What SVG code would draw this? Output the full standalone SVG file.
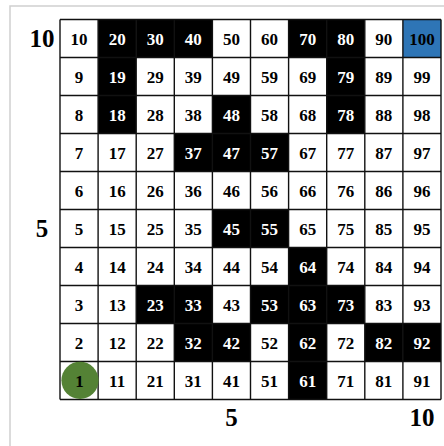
<svg xmlns="http://www.w3.org/2000/svg" width="444" height="446" viewBox="0 0 444 446">
<style>
.bg{fill:#fff}
.frame{fill:none;stroke:#cfcfcf;stroke-width:1.5}
.w{fill:#fff}
.b{fill:#000}
.blue{fill:#2e75b6}
.t{font-family:"Liberation Serif","Times New Roman",serif;font-weight:bold;font-size:17px;text-anchor:middle;fill:#000}
.tw{font-family:"Liberation Serif","Times New Roman",serif;font-weight:bold;font-size:17px;text-anchor:middle;fill:#fff}
.ax{font-family:"Liberation Serif","Times New Roman",serif;font-weight:bold;font-size:25px;text-anchor:middle;fill:#000}
.grid line{stroke:#111;stroke-width:1.4}
</style>
<rect class="bg" x="0" y="0" width="444" height="446"/>
<rect class="frame" x="10" y="6" width="440" height="450"/>
<g id="axis-labels">
<text class="ax" x="42" y="47">10</text>
<text class="ax" x="42" y="237">5</text>
<text class="ax" x="231.45" y="426">5</text>
<text class="ax" x="421.95" y="426">10</text>
</g>
<g id="cells">
<g id="cell-2" transform="translate(60,323.5)"><rect class="w" width="38.1" height="38"/><text class="t" x="19.05" y="25">2</text></g>
<g id="cell-3" transform="translate(60,285.5)"><rect class="w" width="38.1" height="38"/><text class="t" x="19.05" y="25">3</text></g>
<g id="cell-4" transform="translate(60,247.5)"><rect class="w" width="38.1" height="38"/><text class="t" x="19.05" y="25">4</text></g>
<g id="cell-5" transform="translate(60,209.5)"><rect class="w" width="38.1" height="38"/><text class="t" x="19.05" y="25">5</text></g>
<g id="cell-6" transform="translate(60,171.5)"><rect class="w" width="38.1" height="38"/><text class="t" x="19.05" y="25">6</text></g>
<g id="cell-7" transform="translate(60,133.5)"><rect class="w" width="38.1" height="38"/><text class="t" x="19.05" y="25">7</text></g>
<g id="cell-8" transform="translate(60,95.5)"><rect class="w" width="38.1" height="38"/><text class="t" x="19.05" y="25">8</text></g>
<g id="cell-9" transform="translate(60,57.5)"><rect class="w" width="38.1" height="38"/><text class="t" x="19.05" y="25">9</text></g>
<g id="cell-10" transform="translate(60,19.5)"><rect class="w" width="38.1" height="38"/><text class="t" x="19.05" y="25">10</text></g>

<g id="cell-11" transform="translate(98.1,361.5)"><rect class="w" width="38.1" height="38"/><text class="t" x="19.05" y="25">11</text></g>
<g id="cell-12" transform="translate(98.1,323.5)"><rect class="w" width="38.1" height="38"/><text class="t" x="19.05" y="25">12</text></g>
<g id="cell-13" transform="translate(98.1,285.5)"><rect class="w" width="38.1" height="38"/><text class="t" x="19.05" y="25">13</text></g>
<g id="cell-14" transform="translate(98.1,247.5)"><rect class="w" width="38.1" height="38"/><text class="t" x="19.05" y="25">14</text></g>
<g id="cell-15" transform="translate(98.1,209.5)"><rect class="w" width="38.1" height="38"/><text class="t" x="19.05" y="25">15</text></g>
<g id="cell-16" transform="translate(98.1,171.5)"><rect class="w" width="38.1" height="38"/><text class="t" x="19.05" y="25">16</text></g>
<g id="cell-17" transform="translate(98.1,133.5)"><rect class="w" width="38.1" height="38"/><text class="t" x="19.05" y="25">17</text></g>
<g id="cell-18" transform="translate(98.1,95.5)"><rect class="b" width="38.1" height="38"/><text class="tw" x="19.05" y="25">18</text></g>
<g id="cell-19" transform="translate(98.1,57.5)"><rect class="b" width="38.1" height="38"/><text class="tw" x="19.05" y="25">19</text></g>
<g id="cell-20" transform="translate(98.1,19.5)"><rect class="b" width="38.1" height="38"/><text class="tw" x="19.05" y="25">20</text></g>

<g id="cell-21" transform="translate(136.2,361.5)"><rect class="w" width="38.1" height="38"/><text class="t" x="19.05" y="25">21</text></g>
<g id="cell-22" transform="translate(136.2,323.5)"><rect class="w" width="38.1" height="38"/><text class="t" x="19.05" y="25">22</text></g>
<g id="cell-23" transform="translate(136.2,285.5)"><rect class="b" width="38.1" height="38"/><text class="tw" x="19.05" y="25">23</text></g>
<g id="cell-24" transform="translate(136.2,247.5)"><rect class="w" width="38.1" height="38"/><text class="t" x="19.05" y="25">24</text></g>
<g id="cell-25" transform="translate(136.2,209.5)"><rect class="w" width="38.1" height="38"/><text class="t" x="19.05" y="25">25</text></g>
<g id="cell-26" transform="translate(136.2,171.5)"><rect class="w" width="38.1" height="38"/><text class="t" x="19.05" y="25">26</text></g>
<g id="cell-27" transform="translate(136.2,133.5)"><rect class="w" width="38.1" height="38"/><text class="t" x="19.05" y="25">27</text></g>
<g id="cell-28" transform="translate(136.2,95.5)"><rect class="w" width="38.1" height="38"/><text class="t" x="19.05" y="25">28</text></g>
<g id="cell-29" transform="translate(136.2,57.5)"><rect class="w" width="38.1" height="38"/><text class="t" x="19.05" y="25">29</text></g>
<g id="cell-30" transform="translate(136.2,19.5)"><rect class="b" width="38.1" height="38"/><text class="tw" x="19.05" y="25">30</text></g>

<g id="cell-31" transform="translate(174.3,361.5)"><rect class="w" width="38.1" height="38"/><text class="t" x="19.05" y="25">31</text></g>
<g id="cell-32" transform="translate(174.3,323.5)"><rect class="b" width="38.1" height="38"/><text class="tw" x="19.05" y="25">32</text></g>
<g id="cell-33" transform="translate(174.3,285.5)"><rect class="b" width="38.1" height="38"/><text class="tw" x="19.05" y="25">33</text></g>
<g id="cell-34" transform="translate(174.3,247.5)"><rect class="w" width="38.1" height="38"/><text class="t" x="19.05" y="25">34</text></g>
<g id="cell-35" transform="translate(174.3,209.5)"><rect class="w" width="38.1" height="38"/><text class="t" x="19.05" y="25">35</text></g>
<g id="cell-36" transform="translate(174.3,171.5)"><rect class="w" width="38.1" height="38"/><text class="t" x="19.05" y="25">36</text></g>
<g id="cell-37" transform="translate(174.3,133.5)"><rect class="b" width="38.1" height="38"/><text class="tw" x="19.05" y="25">37</text></g>
<g id="cell-38" transform="translate(174.3,95.5)"><rect class="w" width="38.1" height="38"/><text class="t" x="19.05" y="25">38</text></g>
<g id="cell-39" transform="translate(174.3,57.5)"><rect class="w" width="38.1" height="38"/><text class="t" x="19.05" y="25">39</text></g>
<g id="cell-40" transform="translate(174.3,19.5)"><rect class="b" width="38.1" height="38"/><text class="tw" x="19.05" y="25">40</text></g>

<g id="cell-41" transform="translate(212.4,361.5)"><rect class="w" width="38.1" height="38"/><text class="t" x="19.05" y="25">41</text></g>
<g id="cell-42" transform="translate(212.4,323.5)"><rect class="b" width="38.1" height="38"/><text class="tw" x="19.05" y="25">42</text></g>
<g id="cell-43" transform="translate(212.4,285.5)"><rect class="w" width="38.1" height="38"/><text class="t" x="19.05" y="25">43</text></g>
<g id="cell-44" transform="translate(212.4,247.5)"><rect class="w" width="38.1" height="38"/><text class="t" x="19.05" y="25">44</text></g>
<g id="cell-45" transform="translate(212.4,209.5)"><rect class="b" width="38.1" height="38"/><text class="tw" x="19.05" y="25">45</text></g>
<g id="cell-46" transform="translate(212.4,171.5)"><rect class="w" width="38.1" height="38"/><text class="t" x="19.05" y="25">46</text></g>
<g id="cell-47" transform="translate(212.4,133.5)"><rect class="b" width="38.1" height="38"/><text class="tw" x="19.05" y="25">47</text></g>
<g id="cell-48" transform="translate(212.4,95.5)"><rect class="b" width="38.1" height="38"/><text class="tw" x="19.05" y="25">48</text></g>
<g id="cell-49" transform="translate(212.4,57.5)"><rect class="w" width="38.1" height="38"/><text class="t" x="19.05" y="25">49</text></g>
<g id="cell-50" transform="translate(212.4,19.5)"><rect class="w" width="38.1" height="38"/><text class="t" x="19.05" y="25">50</text></g>

<g id="cell-51" transform="translate(250.5,361.5)"><rect class="w" width="38.1" height="38"/><text class="t" x="19.05" y="25">51</text></g>
<g id="cell-52" transform="translate(250.5,323.5)"><rect class="w" width="38.1" height="38"/><text class="t" x="19.05" y="25">52</text></g>
<g id="cell-53" transform="translate(250.5,285.5)"><rect class="b" width="38.1" height="38"/><text class="tw" x="19.05" y="25">53</text></g>
<g id="cell-54" transform="translate(250.5,247.5)"><rect class="w" width="38.1" height="38"/><text class="t" x="19.05" y="25">54</text></g>
<g id="cell-55" transform="translate(250.5,209.5)"><rect class="b" width="38.1" height="38"/><text class="tw" x="19.05" y="25">55</text></g>
<g id="cell-56" transform="translate(250.5,171.5)"><rect class="w" width="38.1" height="38"/><text class="t" x="19.05" y="25">56</text></g>
<g id="cell-57" transform="translate(250.5,133.5)"><rect class="b" width="38.1" height="38"/><text class="tw" x="19.05" y="25">57</text></g>
<g id="cell-58" transform="translate(250.5,95.5)"><rect class="w" width="38.1" height="38"/><text class="t" x="19.05" y="25">58</text></g>
<g id="cell-59" transform="translate(250.5,57.5)"><rect class="w" width="38.1" height="38"/><text class="t" x="19.05" y="25">59</text></g>
<g id="cell-60" transform="translate(250.5,19.5)"><rect class="w" width="38.1" height="38"/><text class="t" x="19.05" y="25">60</text></g>

<g id="cell-61" transform="translate(288.6,361.5)"><rect class="b" width="38.1" height="38"/><text class="tw" x="19.05" y="25">61</text></g>
<g id="cell-62" transform="translate(288.6,323.5)"><rect class="b" width="38.1" height="38"/><text class="tw" x="19.05" y="25">62</text></g>
<g id="cell-63" transform="translate(288.6,285.5)"><rect class="b" width="38.1" height="38"/><text class="tw" x="19.05" y="25">63</text></g>
<g id="cell-64" transform="translate(288.6,247.5)"><rect class="b" width="38.1" height="38"/><text class="tw" x="19.05" y="25">64</text></g>
<g id="cell-65" transform="translate(288.6,209.5)"><rect class="w" width="38.1" height="38"/><text class="t" x="19.05" y="25">65</text></g>
<g id="cell-66" transform="translate(288.6,171.5)"><rect class="w" width="38.1" height="38"/><text class="t" x="19.05" y="25">66</text></g>
<g id="cell-67" transform="translate(288.6,133.5)"><rect class="w" width="38.1" height="38"/><text class="t" x="19.05" y="25">67</text></g>
<g id="cell-68" transform="translate(288.6,95.5)"><rect class="w" width="38.1" height="38"/><text class="t" x="19.05" y="25">68</text></g>
<g id="cell-69" transform="translate(288.6,57.5)"><rect class="w" width="38.1" height="38"/><text class="t" x="19.05" y="25">69</text></g>
<g id="cell-70" transform="translate(288.6,19.5)"><rect class="b" width="38.1" height="38"/><text class="tw" x="19.05" y="25">70</text></g>

<g id="cell-71" transform="translate(326.7,361.5)"><rect class="w" width="38.1" height="38"/><text class="t" x="19.05" y="25">71</text></g>
<g id="cell-72" transform="translate(326.7,323.5)"><rect class="w" width="38.1" height="38"/><text class="t" x="19.05" y="25">72</text></g>
<g id="cell-73" transform="translate(326.7,285.5)"><rect class="b" width="38.1" height="38"/><text class="tw" x="19.05" y="25">73</text></g>
<g id="cell-74" transform="translate(326.7,247.5)"><rect class="w" width="38.1" height="38"/><text class="t" x="19.05" y="25">74</text></g>
<g id="cell-75" transform="translate(326.7,209.5)"><rect class="w" width="38.1" height="38"/><text class="t" x="19.05" y="25">75</text></g>
<g id="cell-76" transform="translate(326.7,171.5)"><rect class="w" width="38.1" height="38"/><text class="t" x="19.05" y="25">76</text></g>
<g id="cell-77" transform="translate(326.7,133.5)"><rect class="w" width="38.1" height="38"/><text class="t" x="19.05" y="25">77</text></g>
<g id="cell-78" transform="translate(326.7,95.5)"><rect class="b" width="38.1" height="38"/><text class="tw" x="19.05" y="25">78</text></g>
<g id="cell-79" transform="translate(326.7,57.5)"><rect class="b" width="38.1" height="38"/><text class="tw" x="19.05" y="25">79</text></g>
<g id="cell-80" transform="translate(326.7,19.5)"><rect class="b" width="38.1" height="38"/><text class="tw" x="19.05" y="25">80</text></g>

<g id="cell-81" transform="translate(364.8,361.5)"><rect class="w" width="38.1" height="38"/><text class="t" x="19.05" y="25">81</text></g>
<g id="cell-82" transform="translate(364.8,323.5)"><rect class="b" width="38.1" height="38"/><text class="tw" x="19.05" y="25">82</text></g>
<g id="cell-83" transform="translate(364.8,285.5)"><rect class="w" width="38.1" height="38"/><text class="t" x="19.05" y="25">83</text></g>
<g id="cell-84" transform="translate(364.8,247.5)"><rect class="w" width="38.1" height="38"/><text class="t" x="19.05" y="25">84</text></g>
<g id="cell-85" transform="translate(364.8,209.5)"><rect class="w" width="38.1" height="38"/><text class="t" x="19.05" y="25">85</text></g>
<g id="cell-86" transform="translate(364.8,171.5)"><rect class="w" width="38.1" height="38"/><text class="t" x="19.05" y="25">86</text></g>
<g id="cell-87" transform="translate(364.8,133.5)"><rect class="w" width="38.1" height="38"/><text class="t" x="19.05" y="25">87</text></g>
<g id="cell-88" transform="translate(364.8,95.5)"><rect class="w" width="38.1" height="38"/><text class="t" x="19.05" y="25">88</text></g>
<g id="cell-89" transform="translate(364.8,57.5)"><rect class="w" width="38.1" height="38"/><text class="t" x="19.05" y="25">89</text></g>
<g id="cell-90" transform="translate(364.8,19.5)"><rect class="w" width="38.1" height="38"/><text class="t" x="19.05" y="25">90</text></g>

<g id="cell-91" transform="translate(402.9,361.5)"><rect class="w" width="38.1" height="38"/><text class="t" x="19.05" y="25">91</text></g>
<g id="cell-92" transform="translate(402.9,323.5)"><rect class="b" width="38.1" height="38"/><text class="tw" x="19.05" y="25">92</text></g>
<g id="cell-93" transform="translate(402.9,285.5)"><rect class="w" width="38.1" height="38"/><text class="t" x="19.05" y="25">93</text></g>
<g id="cell-94" transform="translate(402.9,247.5)"><rect class="w" width="38.1" height="38"/><text class="t" x="19.05" y="25">94</text></g>
<g id="cell-95" transform="translate(402.9,209.5)"><rect class="w" width="38.1" height="38"/><text class="t" x="19.05" y="25">95</text></g>
<g id="cell-96" transform="translate(402.9,171.5)"><rect class="w" width="38.1" height="38"/><text class="t" x="19.05" y="25">96</text></g>
<g id="cell-97" transform="translate(402.9,133.5)"><rect class="w" width="38.1" height="38"/><text class="t" x="19.05" y="25">97</text></g>
<g id="cell-98" transform="translate(402.9,95.5)"><rect class="w" width="38.1" height="38"/><text class="t" x="19.05" y="25">98</text></g>
<g id="cell-99" transform="translate(402.9,57.5)"><rect class="w" width="38.1" height="38"/><text class="t" x="19.05" y="25">99</text></g>
<g id="cell-100" transform="translate(402.9,19.5)"><rect class="blue" width="38.1" height="38"/><text class="t" x="19.05" y="25">100</text></g>
</g>
<g id="grid" class="grid">
<line x1="60" y1="19.5" x2="60" y2="399.5"/>
<line x1="98.1" y1="19.5" x2="98.1" y2="399.5"/>
<line x1="136.2" y1="19.5" x2="136.2" y2="399.5"/>
<line x1="174.3" y1="19.5" x2="174.3" y2="399.5"/>
<line x1="212.4" y1="19.5" x2="212.4" y2="399.5"/>
<line x1="250.5" y1="19.5" x2="250.5" y2="399.5"/>
<line x1="288.6" y1="19.5" x2="288.6" y2="399.5"/>
<line x1="326.7" y1="19.5" x2="326.7" y2="399.5"/>
<line x1="364.8" y1="19.5" x2="364.8" y2="399.5"/>
<line x1="402.9" y1="19.5" x2="402.9" y2="399.5"/>
<line x1="441" y1="19.5" x2="441" y2="399.5"/>
<line x1="60" y1="19.5" x2="441" y2="19.5"/>
<line x1="60" y1="57.5" x2="441" y2="57.5"/>
<line x1="60" y1="95.5" x2="441" y2="95.5"/>
<line x1="60" y1="133.5" x2="441" y2="133.5"/>
<line x1="60" y1="171.5" x2="441" y2="171.5"/>
<line x1="60" y1="209.5" x2="441" y2="209.5"/>
<line x1="60" y1="247.5" x2="441" y2="247.5"/>
<line x1="60" y1="285.5" x2="441" y2="285.5"/>
<line x1="60" y1="323.5" x2="441" y2="323.5"/>
<line x1="60" y1="361.5" x2="441" y2="361.5"/>
<line x1="60" y1="399.5" x2="441" y2="399.5"/>
</g>
<g id="cell-1">
<circle cx="80" cy="380.3" r="18.6" fill="#548235"/>
<text class="t" x="79.5" y="386.5">1</text>
</g>
</svg>
